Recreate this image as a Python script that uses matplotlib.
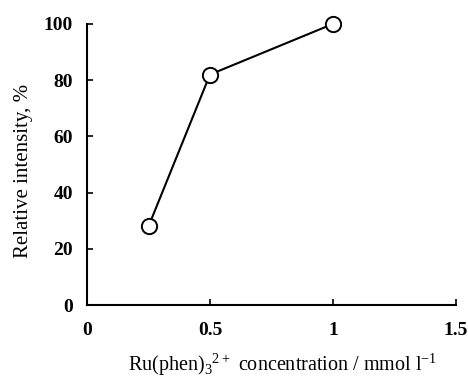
import matplotlib
matplotlib.use("Agg")
import matplotlib.pyplot as plt

# Ru(phen)3 concentration (mmol/l) vs relative intensity (%)
conc = [0.25, 0.5, 1.0]
intensity = [28, 82, 100]

xticks = [0, 0.5, 1, 1.5]
xticklabels = ["0", "0.5", "1", "1.5"]
yticks = [0, 20, 40, 60, 80, 100]

plt.rcParams['font.family'] = ['Liberation Serif', 'DejaVu Serif']
plt.rcParams['mathtext.fontset'] = 'custom'
plt.rcParams['mathtext.rm'] = 'Liberation Serif'

fig = plt.figure(figsize=(4.68, 3.8), dpi=100)
ax = fig.add_axes([0.186, 0.197, 0.788, 0.740])

ax.plot(conc, intensity, color='black', linewidth=1.5, marker='o',
        markersize=11, markerfacecolor='white', markeredgecolor='black',
        markeredgewidth=1.4, clip_on=False, zorder=3)

ax.set_xlim(0, 1.5)
ax.set_ylim(0, 100)
ax.set_xticks(xticks)
ax.set_xticklabels(xticklabels, fontweight='bold', fontsize=14)
ax.set_yticks(yticks)
ax.set_yticklabels([str(v) for v in yticks], fontweight='bold', fontsize=14)
ax.tick_params(direction='in', length=4, width=1.2)
ax.tick_params(axis='x', pad=12)
ax.tick_params(axis='y', pad=10)

for side in ['top', 'right']:
    ax.spines[side].set_visible(False)
for side in ['left', 'bottom']:
    ax.spines[side].set_linewidth(1.5)

ax.set_ylabel('Relative intensity, %', fontsize=15, labelpad=8)
ax.yaxis.label.set_y(0.477)
ax.set_xlabel(r'Ru(phen)$_3$$^{2+}$ concentration / mmol l$^{-1}$', fontsize=14.5, labelpad=9)
ax.xaxis.label.set_x(0.53)

fig.savefig('out.png', dpi=100)
